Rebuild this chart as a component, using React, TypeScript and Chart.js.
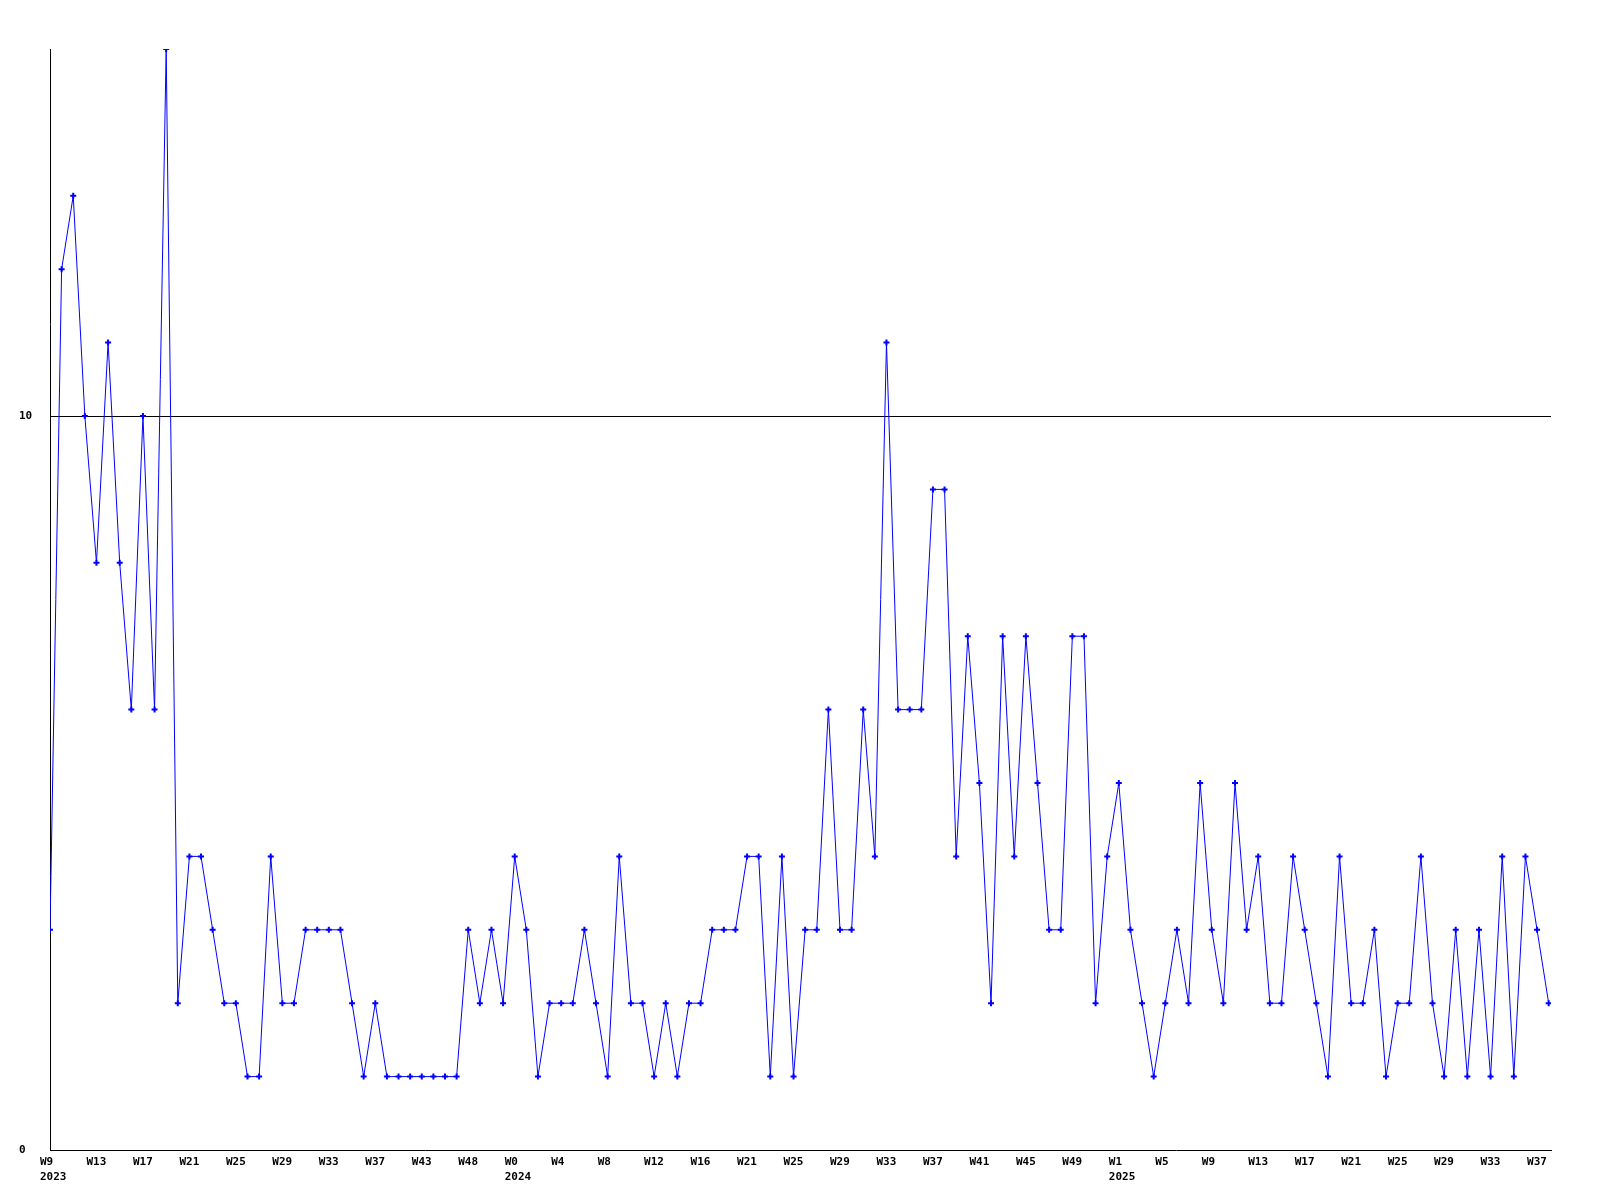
import React, { useEffect, useRef } from "react";
import { Chart, registerables } from "chart.js";

Chart.register(...registerables);

// Weekly values, one per point (130 points)
const values: number[] = [
  3, 12, 13, 10, 8, 11, 8, 6, 10, 6,
  15, 2, 4, 4, 3, 2, 2, 1, 1, 4,
  2, 2, 3, 3, 3, 3, 2, 1, 2, 1,
  1, 1, 1, 1, 1, 1, 3, 2, 3, 2,
  4, 3, 1, 2, 2, 2, 3, 2, 1, 4,
  2, 2, 1, 2, 1, 2, 2, 3, 3, 3,
  4, 4, 1, 4, 1, 3, 3, 6, 3, 3,
  6, 4, 11, 6, 6, 6, 9, 9, 4, 7,
  5, 2, 7, 4, 7, 5, 3, 3, 7, 7,
  2, 4, 5, 3, 2, 1, 2, 3, 2, 5,
  3, 2, 5, 3, 4, 2, 2, 4, 3, 2,
  1, 4, 2, 2, 3, 1, 2, 2, 4, 2,
  1, 3, 1, 3, 1, 4, 1, 4, 3, 2,
];

// X tick labels, one every 4 points
const xTickLabels: (string | string[])[] = [
  ["W9", "2023"], "W13", "W17", "W21", "W25", "W29", "W33", "W37", "W43", "W48",
  ["W0", "2024"], "W4", "W8", "W12", "W16", "W21", "W25", "W29", "W33", "W37",
  "W41", "W45", "W49", ["W1", "2025"], "W5", "W9", "W13", "W17", "W21", "W25",
  "W29", "W33", "W37",
];
const xTickStep = 4;

const yTickValues: number[] = [0, 10];
const yMin = 0;
const yMax = 15;

const tickFont = {
  family: "'DejaVu Sans Mono', 'Liberation Mono', monospace",
  size: 11,
  weight: "bold" as const,
  lineHeight: 15.5 / 11,
};

export default function App() {
  const canvasRef = useRef<HTMLCanvasElement | null>(null);

  useEffect(() => {
    const canvas = canvasRef.current;
    if (!canvas) return;
    const points = values.map((v, i) => ({ x: i, y: v }));
    const chart = new Chart(canvas, {
      type: "line",
      data: {
        datasets: [
          {
            data: points,
            borderColor: "#0000ff",
            backgroundColor: "#0000ff",
            borderWidth: 1,
            tension: 0,
            pointStyle: "cross",
            pointRadius: 3,
            pointBorderWidth: 2,
            pointBorderColor: "#0000ff",
            pointBackgroundColor: "#0000ff",
            pointHoverRadius: 3,
          },
        ],
      },
      options: {
        animation: false,
        responsive: false,
        devicePixelRatio: 1,
        layout: { padding: { left: 19, top: 49, right: 49, bottom: 0 } },
        plugins: {
          legend: { display: false },
          tooltip: { enabled: false },
          title: { display: false },
        },
        scales: {
          x: {
            type: "linear",
            min: 0,
            max: values.length - 1 + 0.2,
            afterBuildTicks: (scale: any) => {
              scale.ticks = xTickLabels.map((_, k) => ({ value: k * xTickStep }));
            },
            afterFit: (scale: any) => {
              scale.height = 50;
            },
            grid: { display: false, drawTicks: false },
            border: { display: true, color: "#000000", width: 1 },
            ticks: {
              autoSkip: false,
              maxRotation: 0,
              minRotation: 0,
              align: "start",
              labelOffset: -10,
              padding: 4,
              color: "#000000",
              font: tickFont,
              callback: (_value: any, index: number) => xTickLabels[index],
            },
          },
          y: {
            type: "linear",
            min: yMin,
            max: yMax,
            afterBuildTicks: (scale: any) => {
              scale.ticks = yTickValues.map((v) => ({ value: v }));
            },
            afterFit: (scale: any) => {
              scale.width = 31;
            },
            grid: {
              drawTicks: false,
              color: (ctx: any) =>
                ctx.tick && ctx.tick.value === 10 ? "#000000" : "rgba(0,0,0,0)",
              lineWidth: 1,
            },
            border: { display: true, color: "#000000", width: 1 },
            ticks: {
              crossAlign: "far",
              padding: 0,
              color: "#000000",
              font: tickFont,
              callback: (value: any) => String(value),
            },
          },
        },
      },
    });
    return () => chart.destroy();
  }, []);

  return (
    <div style={{ position: "absolute", left: 0, top: 0, width: 1600, height: 1200, background: "#ffffff" }}>
      <canvas ref={canvasRef} width={1600} height={1200} />
    </div>
  );
}
